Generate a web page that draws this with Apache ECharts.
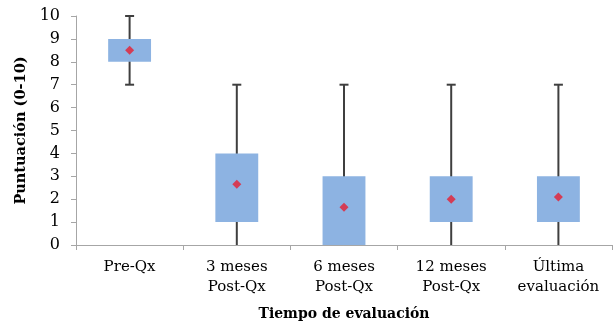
<!DOCTYPE html>
<html><head><meta charset="utf-8">
<script src="https://cdn.jsdelivr.net/npm/echarts@6/dist/echarts.min.js"></script>
<style>html,body{margin:0;padding:0;background:#fff}#c{width:613px;height:329px}</style>
</head><body><div id="c"></div>
<script>
const categories = ['Pre-Qx', '3 meses\nPost-Qx', '6 meses\nPost-Qx', '12 meses\nPost-Qx', 'Última\nevaluación'];
const whiskerLow = [7, 0, 0, 0, 0];
const q1 = [8, 1, 0, 1, 1];
const q3 = [9, 4, 3, 3, 3];
const whiskerHigh = [10, 7, 7, 7, 7];
const means = [8.5, 2.65, 1.65, 2.0, 2.1];
const yTicks = [0, 10, 1];

const boxData = categories.map((c, i) => [i, whiskerLow[i], q1[i], q3[i], whiskerHigh[i]]);
const meanData = categories.map((c, i) => [i, means[i]]);

const chart = echarts.init(document.getElementById('c'), null, {renderer: 'canvas'});
const font = 'DejaVu Serif';
chart.setOption({
  animation: false,
  grid: {left: 76, right: 1, top: 16, bottom: 84},
  xAxis: {
    type: 'category', data: categories, boundaryGap: true,
    name: 'Tiempo de evaluación', nameLocation: 'middle', nameGap: 62,
    nameTextStyle: {fontFamily: font, fontWeight: 'bold', fontSize: 14, color: '#000'},
    axisLine: {lineStyle: {color: '#a6a6a6', width: 1}},
    axisTick: {show: true, alignWithLabel: false, length: 5, lineStyle: {color: '#a6a6a6'}},
    axisLabel: {fontFamily: font, fontSize: 15, color: '#000', lineHeight: 20, margin: 12, interval: 0}
  },
  yAxis: {
    type: 'value', min: yTicks[0], max: yTicks[1], interval: yTicks[2],
    name: 'Puntuación (0-10)', nameLocation: 'middle', nameGap: 47,
    nameTextStyle: {fontFamily: font, fontWeight: 'bold', fontSize: 14.5, color: '#000'},
    axisLine: {show: true, lineStyle: {color: '#a6a6a6', width: 1}},
    axisTick: {show: true, length: 5, lineStyle: {color: '#a6a6a6'}},
    splitLine: {show: false},
    axisLabel: {fontFamily: font, fontSize: 16, color: '#000', margin: 16}
  },
  series: [{
    type: 'custom',
    data: boxData,
    renderItem: function (params, api) {
      const i = api.value(0);
      const bw = api.size([1, 0])[0] * 0.4;
      const pLow = api.coord([i, api.value(1)]);
      const pQ1 = api.coord([i, api.value(2)]);
      const pQ3 = api.coord([i, api.value(3)]);
      const pHigh = api.coord([i, api.value(4)]);
      const x = pQ1[0];
      const ws = {stroke: '#3f3f3f', lineWidth: 2};
      const cap = 4.5;
      const children = [
        {type: 'line', shape: {x1: x, y1: pLow[1], x2: x, y2: pHigh[1]}, style: ws},
        {type: 'line', shape: {x1: x - cap, y1: pHigh[1], x2: x + cap, y2: pHigh[1]}, style: ws}
      ];
      if (api.value(1) > yTicks[0]) {
        children.push({type: 'line', shape: {x1: x - cap, y1: pLow[1], x2: x + cap, y2: pLow[1]}, style: ws});
      }
      children.push({type: 'rect', shape: {x: x - bw / 2, y: pQ3[1], width: bw, height: pQ1[1] - pQ3[1]},
        style: {fill: '#8db3e2', stroke: null}});
      return {type: 'group', children: children};
    },
    z: 2
  }, {
    type: 'scatter',
    data: meanData,
    symbol: 'diamond',
    symbolSize: 9,
    itemStyle: {color: '#e61e32'},
    z: 3
  }]
});
</script></body></html>
